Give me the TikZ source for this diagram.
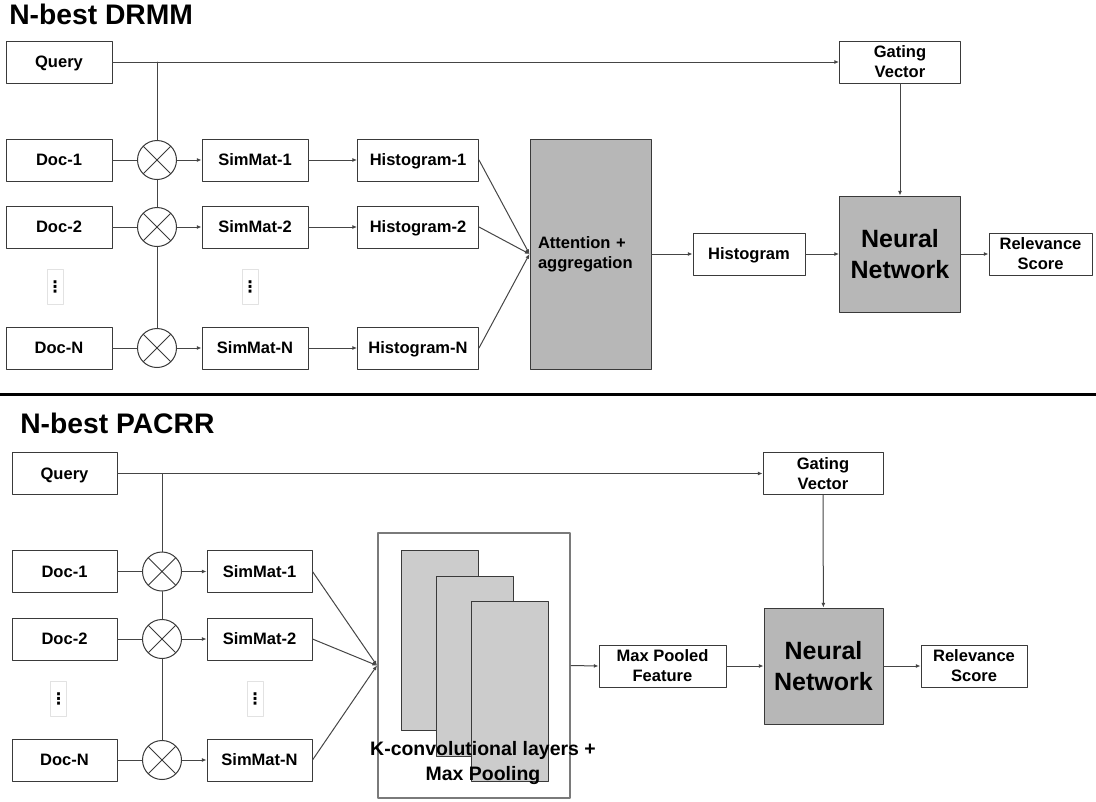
\documentclass[tikz,border=0pt]{standalone}
\usepackage{fontspec}
\setmainfont{Liberation Sans}
\newfontfamily\symfont{DejaVu Sans}
\usetikzlibrary{arrows.meta}

\definecolor{boxgray}{HTML}{3A3A3A}
\definecolor{linegray}{HTML}{454545}
\definecolor{nngray}{HTML}{B7B7B7}
\definecolor{layergray}{HTML}{CCCCCC}
\definecolor{framegray}{HTML}{7A7A7A}
\definecolor{dotgray}{HTML}{E2E2E2}

\begin{document}
\begin{tikzpicture}[x=0.75pt, y=-0.75pt, line cap=round, line join=round,
    >={Latex[length=3.5pt,width=3pt]},
    box/.style={draw=boxgray, line width=0.75pt, fill=white, inner sep=0pt,
        minimum height=31.5pt, align=center, font=\bfseries\fontsize{12.4}{15}\selectfont},
    oneline/.style={box, text height=8.9pt, text depth=0pt},
    darkbox/.style={box, fill=nngray},
    bigtext/.style={font=\bfseries\fontsize{18.75}{23}\selectfont},
    title/.style={anchor=base west, inner sep=0pt, font=\bfseries\fontsize{21.2}{25}\selectfont},
    mult/.style={circle, draw=boxgray, line width=0.75pt, fill=white, inner sep=0pt,
        minimum size=29.25pt,
        path picture={\draw[boxgray, line width=0.75pt]
            (path picture bounding box.south west) -- (path picture bounding box.north east)
            (path picture bounding box.north west) -- (path picture bounding box.south east);}},
    dotbox/.style={draw=dotgray, line width=0.5pt, inner sep=0pt,
        minimum width=11.25pt, minimum height=26.25pt, font=\symfont\bfseries\fontsize{12}{12}\selectfont},
    layer/.style={draw=boxgray, line width=0.75pt, fill=layergray, inner sep=0pt,
        minimum width=57.75pt, minimum height=135pt},
    link/.style={draw=linegray, line width=0.75pt}]

    \useasboundingbox (0,0) rectangle (1096,801);

    % ---- N-best DRMM ----
    \node[title] (drmmtitle) at (9,24) {N-best DRMM};

    \node[oneline, minimum width=79.5pt] (query1) at (59,62) {Query};
    \node[box, minimum width=90.75pt] (gate1) at (900,62) {Gating\\Vector};

    % one row per document
    \foreach \i/\y in {1/160, 2/227, N/348} {
        \node[oneline, minimum width=79.5pt] (doc1\i) at (59,\y) {Doc-\i};
        \node[mult] (mult1\i) at (157,\y) {};
        \node[oneline, minimum width=79.5pt] (sim1\i) at (255,\y) {SimMat-\i};
        \node[oneline, minimum width=90.75pt] (hist1\i) at (418,\y) {Histogram-\i};
    }
    \node[dotbox] (dots11) at (55,287) {⋮};
    \node[dotbox] (dots12) at (250,287) {⋮};

    \node[darkbox, minimum width=90.75pt, minimum height=172.5pt, align=left,
        text width=78.75pt, inner xsep=6pt] (attn) at (590.5,254) {Attention +\\aggregation};
    \node[oneline, minimum width=84pt] (hist) at (749,254) {Histogram};
    \node[darkbox, bigtext, minimum width=90.75pt, minimum height=87pt] (nn1) at (900,254) {Neural\\Network};
    \node[box, minimum width=77.25pt] (score1) at (1040.5,254) {Relevance\\Score};

    % connectors
    \draw[link, ->] (query1) -- (gate1);
    \draw[link] (mult11 |- query1) -- (mult11);
    \draw[link] (mult11) -- (mult12);
    \draw[link] (mult12) -- (mult1N);
    \foreach \i in {1,2,N} {
        \draw[link] (doc1\i) -- (mult1\i);
        \draw[link, ->] (mult1\i) -- (sim1\i);
        \draw[link, ->] (sim1\i) -- (hist1\i);
        \draw[link, ->] (hist1\i.east) -- (attn.west);
    }
    \draw[link, ->] (attn) -- (hist);
    \draw[link, ->] (hist) -- (nn1);
    \draw[link, ->] (nn1) -- (score1);
    \draw[link, ->] (gate1) -- (nn1);

    % separator
    \draw[line width=2.25pt] (0,394) -- (1096,394);

    % ---- N-best PACRR ----
    \node[title] (pacrrtitle) at (20,433) {N-best PACRR};

    \node[oneline, minimum width=78.75pt] (query2) at (64.5,473.5) {Query};
    \node[box, minimum width=90pt] (gate2) at (823,473.5) {Gating\\Vector};

    \foreach \i/\y in {1/571.5, 2/639, N/760} {
        \node[oneline, minimum width=78.75pt] (doc2\i) at (64.5,\y) {Doc-\i};
        \node[mult] (mult2\i) at (162,\y) {};
        \node[oneline, minimum width=78.75pt] (sim2\i) at (259.5,\y) {SimMat-\i};
    }
    \node[dotbox] (dots21) at (58.5,699) {⋮};
    \node[dotbox] (dots22) at (255,699) {⋮};

    % stacked conv layers
    \node[draw=framegray, line width=1.5pt, inner sep=0pt, minimum width=144pt,
        minimum height=198.75pt] (kbox) at (474,665.5) {};
    \foreach \k/\x/\y in {1/439.5/640.5, 2/474.5/666, 3/509.5/691}
        \node[layer] (layer\k) at (\x,\y) {};
    \node[align=center, inner sep=0pt, font=\bfseries\fontsize{14.6}{19}\selectfont]
        (klabel) at (483,763) {K-convolutional layers +\\Max Pooling};

    \node[box, minimum width=95.25pt] (pool) at (662.5,666) {Max Pooled\\Feature};
    \node[darkbox, bigtext, minimum width=89.25pt, minimum height=87pt] (nn2) at (823.5,666) {Neural\\Network};
    \node[box, minimum width=79.5pt] (score2) at (974,666) {Relevance\\Score};

    % connectors
    \draw[link, ->] (query2) -- (gate2);
    \draw[link] (mult21 |- query2) -- (mult21);
    \draw[link] (mult21) -- (mult22);
    \draw[link] (mult22) -- (mult2N);
    \foreach \i in {1,2,N} {
        \draw[link] (doc2\i) -- (mult2\i);
        \draw[link, ->] (mult2\i) -- (sim2\i);
        \draw[link, ->] (sim2\i.east) -- (kbox.west);
    }
    \draw[link, ->] (kbox.east) -- (pool.west);
    \draw[link, ->] (pool) -- (nn2);
    \draw[link, ->] (nn2) -- (score2);
    \draw[link, ->] (gate2) -- (nn2);
\end{tikzpicture}
\end{document}
